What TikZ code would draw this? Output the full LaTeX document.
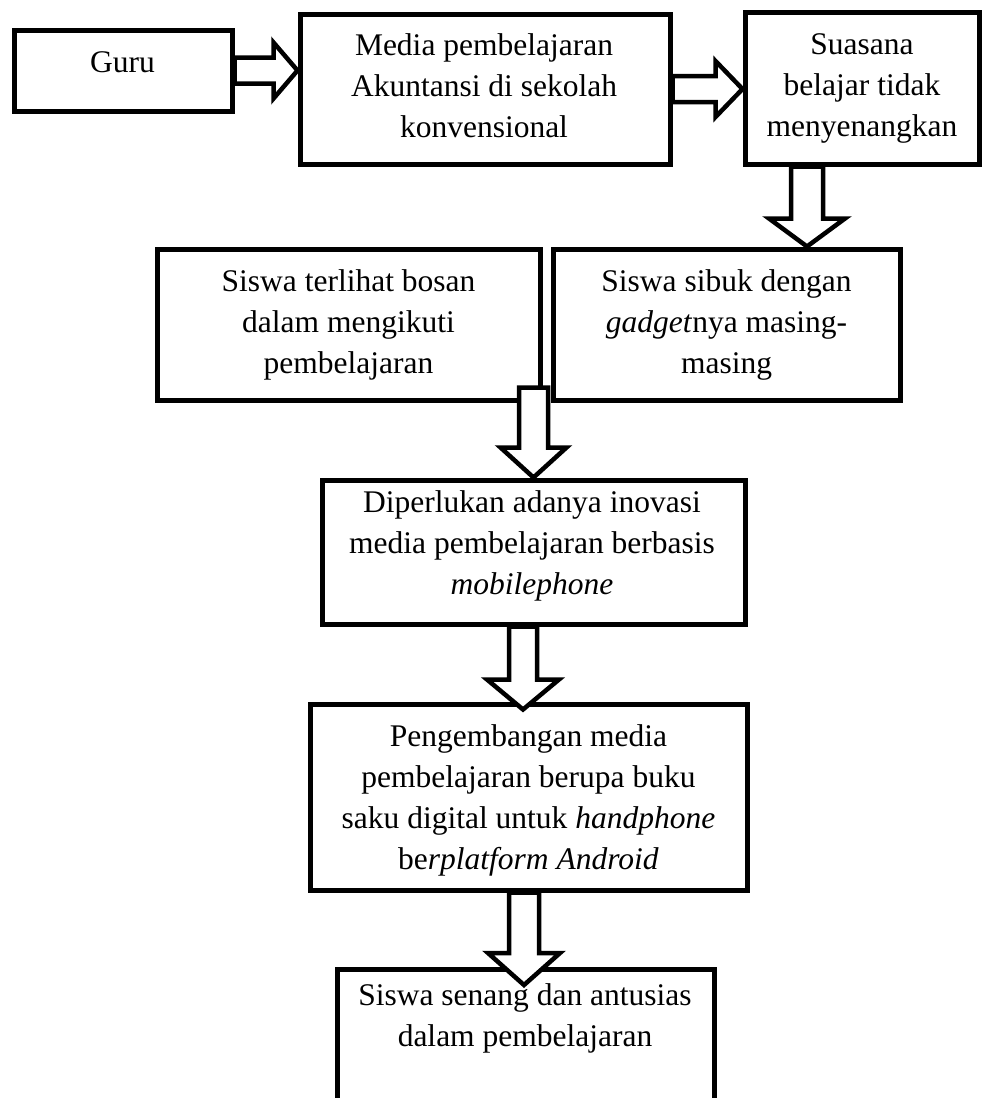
\documentclass[tikz,border=0pt]{standalone}
\usepackage{fontspec}
\setmainfont{Liberation Serif}
\usetikzlibrary{calc}
\tikzset{
  box/.style 2 args={rectangle, draw=black, line width=5pt, inner sep=0pt,
    minimum width=#1, minimum height=#2},
  txt/.style={font=\fontsize{31.5}{41}\selectfont, align=center, inner sep=0pt},
  blockarrow/.style n args={3}{draw=black, fill=white, line width=4.5pt, miter limit=10,
    to path={let \p1=(\tikztostart), \p2=(\tikztotarget),
      \n2={veclen(\x2-\x1,\y2-\y1)} in
      {[shift={(\p1)}, rotate={atan2(\y2-\y1,\x2-\x1)}]
        (0pt,#1pt) -- (\n2-#3pt,#1pt) -- (\n2-#3pt,#2pt) -- (\n2,0pt)
        -- (\n2-#3pt,-#2pt) -- (\n2-#3pt,-#1pt) -- (0pt,-#1pt) -- cycle}}}
}
\begin{document}
\begin{tikzpicture}[x=1pt,y=-1pt]
\useasboundingbox (0,0) rectangle (982,1098);
\clip (0,0) rectangle (982,1098);
% boxes
\node[box={218}{81}] (guru) at (123,70.5) {};
\node[box={370}{150}] (media) at (485,89) {};
\node[box={234}{152}] (suasana) at (862,88) {};
\node[box={383}{151}] (bosan) at (348.5,324.5) {};
\node[box={347}{151}] (sibuk) at (726.5,324.5) {};
\node[box={423}{144}] (diperlukan) at (533.5,552) {};
\node[box={437}{186}] (pengembangan) at (528.5,797) {};
\node[box={377}{200}, anchor=north] (senang) at (525.5,967) {};
% arrows
\draw[blockarrow={13}{28}{24}] (guru.east) to (guru.east -| media.west);
\draw[blockarrow={13}{28}{27}] (media.east) to (media.east -| suasana.west);
\coordinate (a3s) at ([xshift=-55pt]suasana.south);
\coordinate (a3e) at (a3s |- sibuk.north);
\draw[blockarrow={16}{38}{28}] (a3s) to (a3e);
\coordinate (a4b) at (bosan.south -| diperlukan.north);
\draw[blockarrow={14.5}{33}{30}] ([yshift=15pt]a4b) to (diperlukan.north);
\coordinate (a5s) at ([xshift=-10.5pt]diperlukan.south);
\coordinate (a5e) at (a5s |- pengembangan.north);
\draw[blockarrow={14}{36}{30}] (a5s) to ([yshift=-8pt]a5e);
\coordinate (a6s) at ([xshift=-4.5pt]pengembangan.south);
\coordinate (a6e) at (a6s |- senang.north);
\draw[blockarrow={15}{36}{32}] (a6s) to ([yshift=-18pt]a6e);
% texts
\node[txt] (guru-t) at (122.5,62.5) {Guru};
\node[txt] (media-t) at (484,85.5) {Media pembelajaran\\Akuntansi di sekolah\\konvensional};
\node[txt] (suasana-t) at (862,88) {Suasana\\belajar tidak\\menyenangkan};
\node[txt] (bosan-t) at (348.5,325) {Siswa terlihat bosan\\dalam mengikuti\\pembelajaran};
\node[txt] (sibuk-t) at (726.5,325) {Siswa sibuk dengan\\\textit{gadget}nya masing-\\masing};
\node[txt] (diperlukan-t) at (532,545.5) {Diperlukan adanya inovasi\\media pembelajaran berbasis\\\textit{mobilephone}};
\node[txt] (pengembangan-t) at (528.5,800) {Pengembangan media\\pembelajaran berupa buku\\saku digital untuk \textit{handphone}\\be\textit{rplatform Android}};
\node[txt] (senang-t) at (525,1018) {Siswa senang dan antusias\\dalam pembelajaran};
\end{tikzpicture}
\end{document}
